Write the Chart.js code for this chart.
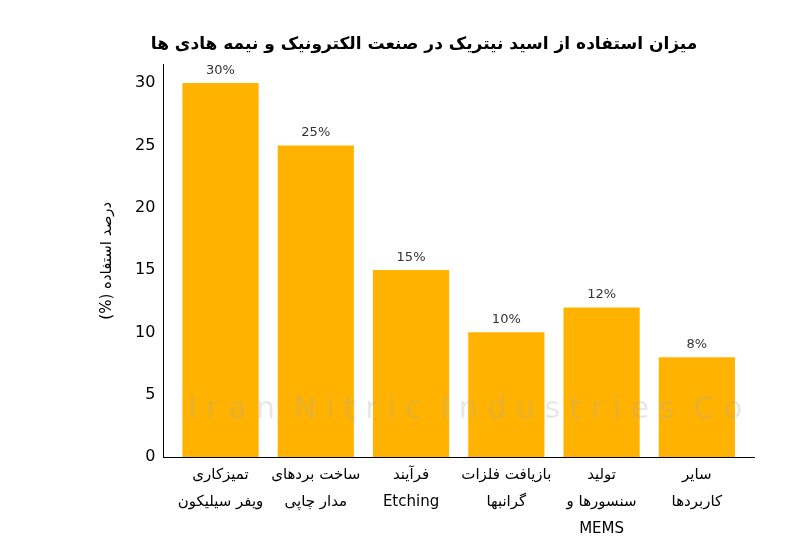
<!DOCTYPE html>
<html>
<head>
<meta charset="utf-8">
<script src="https://cdn.jsdelivr.net/npm/chart.js@4"></script>
<style>
  body { margin: 0; background: #fff; }
  #wrap { width: 800px; height: 554px; }
</style>
</head>
<body>
<div id="wrap"><canvas id="chart"></canvas></div>
<script>
const categories = [
    ['تمیزکاری', 'ویفر سیلیکون'],
    ['ساخت بردهای', 'مدار چاپی'],
    ['فرآیند', 'Etching'],
    ['بازیافت فلزات', 'گرانبها'],
    ['تولید', 'سنسورها و', 'MEMS'],
    ['سایر', 'کاربردها'],
];
const usagePercent = [30, 25, 15, 10, 12, 8];
const yTicks = [0, 5, 10, 15, 20, 25, 30];

const FONT = 'DejaVu Sans';

// value labels above each bar
const barLabels = {
    id: 'barLabels',
    afterDatasetsDraw(chart) {
        const ctx = chart.ctx;
        const meta = chart.getDatasetMeta(0);
        ctx.save();
        ctx.font = '13px "' + FONT + '"';
        ctx.fillStyle = '#333';
        ctx.textAlign = 'center';
        ctx.textBaseline = 'bottom';
        meta.data.forEach((bar, i) => {
            ctx.fillText(usagePercent[i] + '%', bar.x, bar.y - 6);
        });
        ctx.restore();
    }
};

// faint watermark text
const watermark = {
    id: 'watermark',
    afterDraw(chart) {
        const ctx = chart.ctx;
        ctx.save();
        ctx.font = '30px "' + FONT + '"';
        ctx.fillStyle = 'rgba(170,170,170,0.28)';
        ctx.textAlign = 'center';
        ctx.textBaseline = 'middle';
        ctx.fillText('I r a n  N i t r i c  I n d u s t r i e s  C o', 465, 410);
        ctx.restore();
    }
};

new Chart(document.getElementById('chart'), {
    type: 'bar',
    data: {
        datasets: [{
            data: usagePercent.map((v, i) => ({ x: i, y: v })),
            backgroundColor: '#ffb300',
            barPercentage: 0.8,
            categoryPercentage: 1,
        }],
    },
    options: {
        responsive: true,
        maintainAspectRatio: false,
        animation: false,
        layout: { padding: { top: 8, right: 46, bottom: 11, left: 94 } },
        plugins: {
            legend: { display: false },
            tooltip: { enabled: false },
            title: {
                display: true,
                text: 'میزان استفاده از اسید نیتریک در صنعت الکترونیک و نیمه هادی ها',
                font: { family: FONT, size: 17, weight: 'bold' },
                color: '#000',
                padding: { top: 26, bottom: 10 },
            },
        },
        scales: {
            x: {
                type: 'linear',
                offset: false,
                min: -0.6,
                max: 5.6,
                grid: { display: false, drawTicks: true, tickLength: 5 },
                border: { color: '#000', width: 1 },
                afterBuildTicks(axis) {
                    axis.ticks = categories.map((c, i) => ({ value: i }));
                },
                ticks: {
                    autoSkip: false,
                    maxRotation: 0,
                    padding: 0,
                    color: '#000',
                    font: { family: FONT, size: 15, lineHeight: 1.8 },
                    callback: (v) => categories[v],
                },
            },
            y: {
                min: 0,
                max: 31.5,
                afterBuildTicks(axis) {
                    axis.ticks = yTicks.map(v => ({ value: v }));
                },
                grid: { display: false, drawTicks: true, tickLength: 5 },
                border: { color: '#000', width: 1 },
                ticks: {
                    color: '#000',
                    font: { family: FONT, size: 16 },
                },
                title: {
                    display: true,
                    text: '(%) درصد استفاده',
                    color: '#000',
                    font: { family: FONT, size: 15 },
                    padding: { bottom: 16 },
                },
            },
        },
    },
    plugins: [barLabels, watermark],
});
</script>
</body>
</html>
